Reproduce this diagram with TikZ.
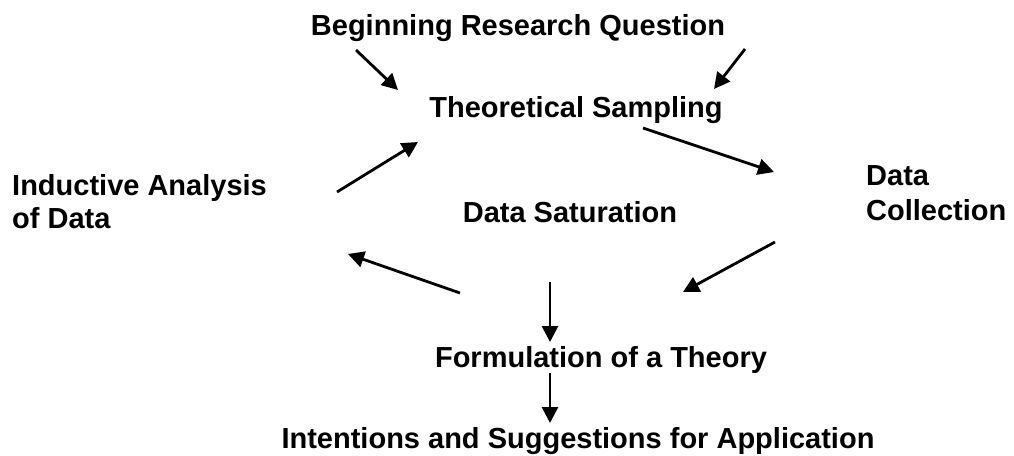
\documentclass[tikz,border=0pt]{standalone}
\usepackage{fontspec}
\setmainfont{Liberation Sans}
\usetikzlibrary{arrows.meta}
\begin{document}
\begin{tikzpicture}[x=1pt,y=-1pt,
  lbl/.style={font=\fontsize{29}{33}\selectfont\bfseries, inner sep=0pt, anchor=base},
  arr/.style={line width=2.8pt, -{Triangle[length=16pt,width=16pt]}}]
\useasboundingbox (0,0) rectangle (1014,455);
\node[lbl] (brq) at (518,35) {Beginning Research Question};
\node[lbl] (ts) at (576,117) {Theoretical Sampling};
\node[lbl, align=left, anchor=base west] (ia) at (12,228) {Inductive Analysis\\of Data};
\node[lbl, align=left, anchor=base west, font=\fontsize{29}{35}\selectfont\bfseries] (dc) at (866,220) {Data\\Collection};
\node[lbl] (ds) at (570,222) {Data Saturation};
\node[lbl] (ft) at (601,367) {Formulation of a Theory};
\node[lbl] (isa) at (578,448) {Intentions and Suggestions for Application};
\coordinate (a1s) at (356,50);  \coordinate (a1e) at (398,90);
\coordinate (a2s) at (745,49);  \coordinate (a2e) at (714,89);
\coordinate (a3s) at (337,192); \coordinate (a3e) at (418,142);
\coordinate (a4s) at (643,128); \coordinate (a4e) at (774,172);
\coordinate (a5s) at (775,242); \coordinate (a5e) at (683,292);
\coordinate (a6s) at (460,293); \coordinate (a6e) at (348,254);
\coordinate (a7s) at (550,282); \coordinate (a7e) at (550,342);
\coordinate (a8s) at (550,373); \coordinate (a8e) at (550,423);
\draw[arr] (a1s) -- (a1e);
\draw[arr] (a2s) -- (a2e);
\draw[arr] (a3s) -- (a3e);
\draw[arr] (a4s) -- (a4e);
\draw[arr] (a5s) -- (a5e);
\draw[arr] (a6s) -- (a6e);
\draw[arr] (a7s) -- (a7e);
\draw[arr] (a8s) -- (a8e);
\end{tikzpicture}
\end{document}
